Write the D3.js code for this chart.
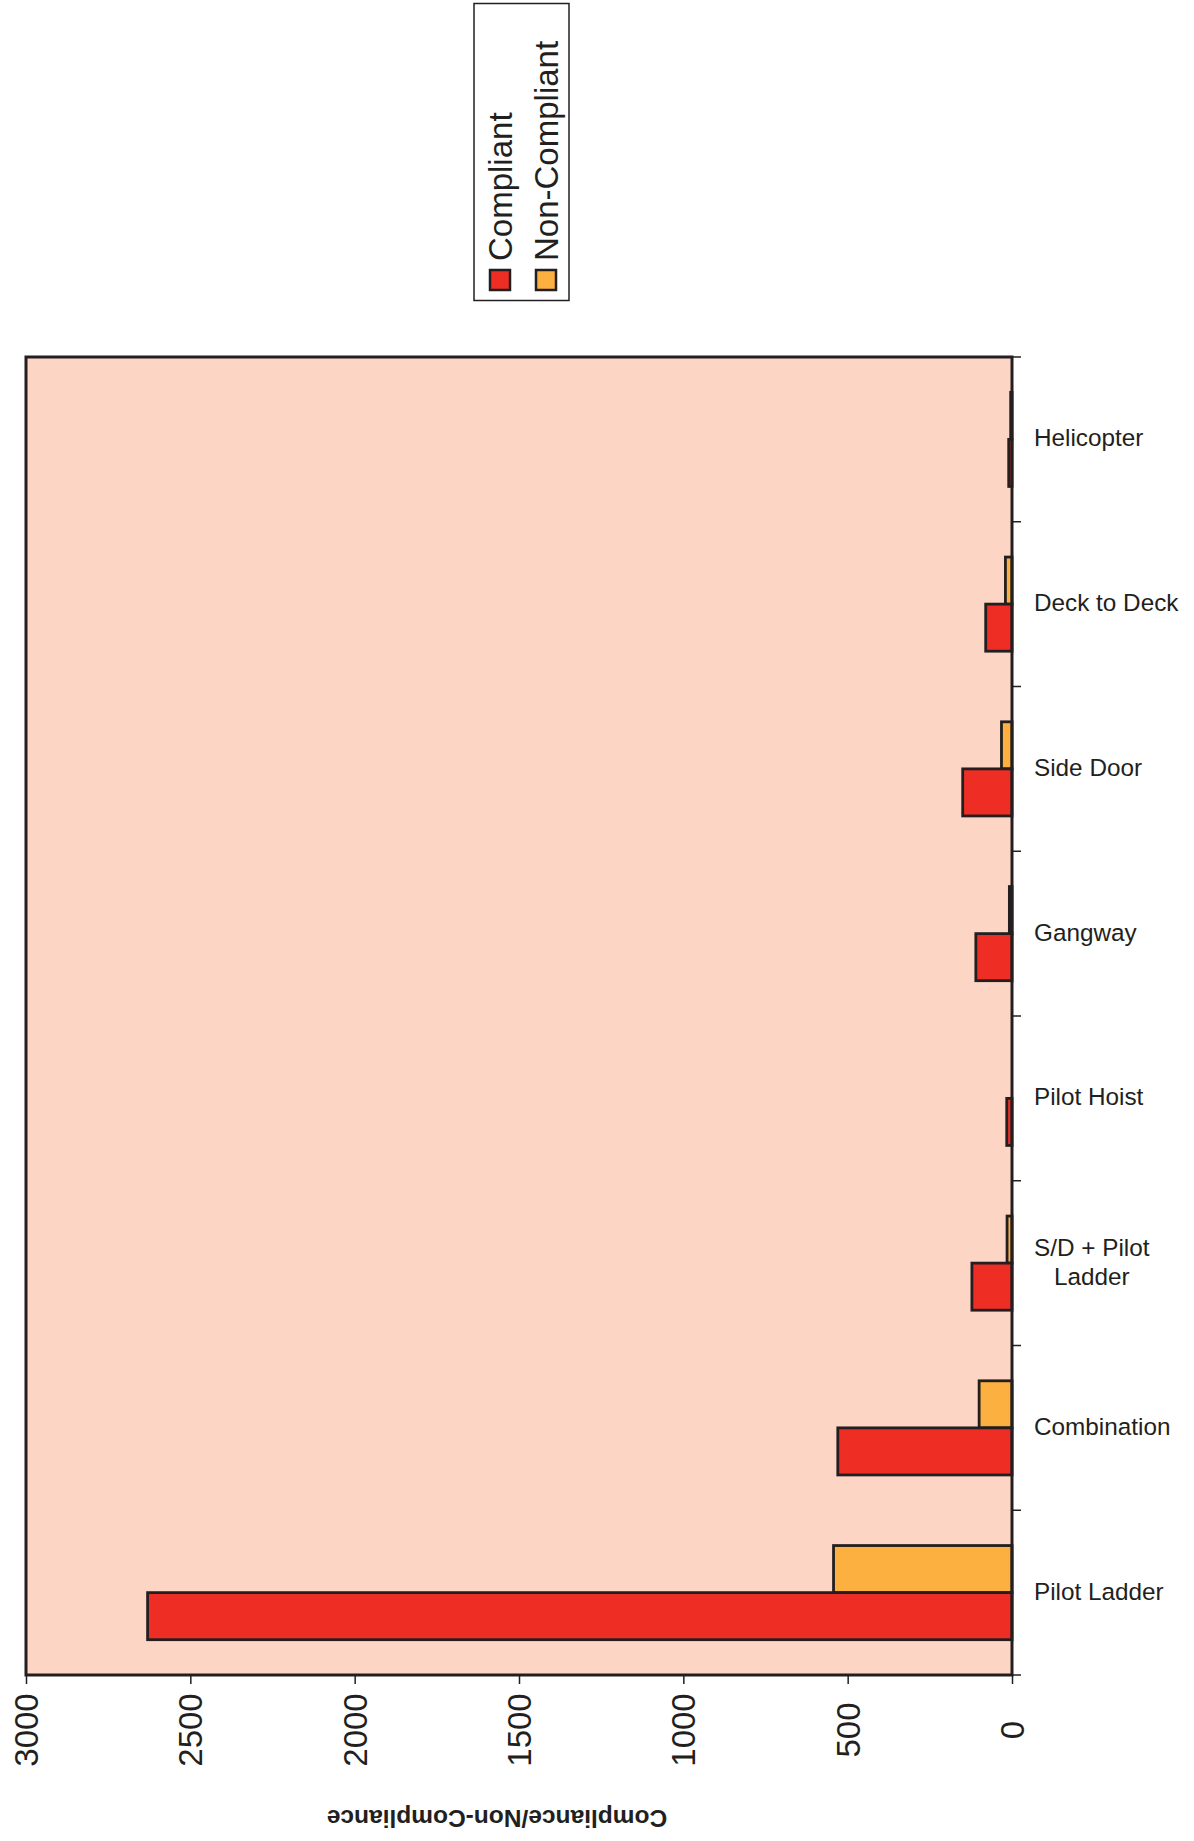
<!DOCTYPE html>
<html>
<head>
<meta charset="utf-8">
<script src="https://cdn.jsdelivr.net/npm/d3@7"></script>
<style>
  html, body { margin: 0; padding: 0; background: #fff; }
  svg { display: block; font-family: "Liberation Sans", Arial, Helvetica, sans-serif; }
</style>
</head>
<body>
<svg id="chart" width="1194" height="1841"></svg>
<script>
/************
** data
*************/
var categories = ["Pilot Ladder", "Combination", "S/D + Pilot Ladder", "Pilot Hoist",
                  "Gangway", "Side Door", "Deck to Deck", "Helicopter"];
var compliant = [2630, 530, 122, 16, 110, 150, 80, 10];
var nonCompliant = [543, 100, 15, 0, 8, 32, 20, 4];
var valueTicks = [0, 500, 1000, 1500, 2000, 2500, 3000];
var seriesNames = ["Compliant", "Non-Compliant"];

/************
** colors
*************/
var plotBg = "#fdd5c4";
var redFill = "#ee2e24";
var orangeFill = "#fbb040";
var ink = "#231f20";

var svg = d3.select("#chart");

// plot area (values grow to the left, categories run bottom to top)
var plot = { left: 26, right: 1012, top: 357, bottom: 1675 };

var x = d3.scaleLinear().domain([0, 3000]).range([plot.right, plot.left]);
var y = d3.scaleBand().domain(categories).range([plot.bottom, plot.top]);
var sub = d3.scaleBand().domain(["nonCompliant", "compliant"])
    .range([0, y.step()]).paddingOuter(0.75);

var rows = categories.map(function(c, i){
    return { cat: c, compliant: compliant[i], nonCompliant: nonCompliant[i] };
});

svg.append("rect")
    .attr("x", plot.left).attr("y", plot.top)
    .attr("width", plot.right - plot.left).attr("height", plot.bottom - plot.top)
    .attr("fill", plotBg);

/************
** bars
*************/
var groups = svg.selectAll("g.cat").data(rows).enter().append("g")
    .attr("class", "cat")
    .attr("transform", function(d){ return "translate(0," + y(d.cat) + ")"; });

[["nonCompliant", orangeFill], ["compliant", redFill]].forEach(function(s){
    groups.filter(function(d){ return d[s[0]] > 0; })
        .append("rect")
        .attr("x", function(d){ return x(d[s[0]]); })
        .attr("y", sub(s[0]))
        .attr("width", function(d){ return x(0) - x(d[s[0]]); })
        .attr("height", sub.bandwidth())
        .attr("fill", s[1])
        .attr("stroke", ink)
        .attr("stroke-width", 2.8);
});

// frame
svg.append("rect")
    .attr("x", plot.left).attr("y", plot.top)
    .attr("width", plot.right - plot.left).attr("height", plot.bottom - plot.top)
    .attr("fill", "none").attr("stroke", ink).attr("stroke-width", 3);

/************
** value axis (bottom)
*************/
var xAxis = svg.append("g")
    .attr("transform", "translate(0," + plot.bottom + ")")
    .call(d3.axisBottom(x).tickValues(valueTicks).tickSize(9).tickSizeOuter(0).tickFormat(d3.format("d")));
xAxis.select(".domain").remove();
xAxis.selectAll(".tick line").attr("stroke", ink).attr("stroke-width", 1.5);
xAxis.selectAll(".tick text")
    .attr("fill", ink)
    .attr("font-size", 33)
    .attr("text-anchor", "middle")
    .attr("y", 0).attr("dy", "0.35em")
    .attr("transform", "translate(0,55) rotate(-90)");

// upside-down axis title
svg.append("text")
    .attr("transform", "translate(497,1819) rotate(180)")
    .attr("text-anchor", "middle")
    .attr("dy", "0.35em")
    .attr("font-size", 24.5)
    .attr("font-weight", "bold")
    .attr("fill", ink)
    .text("Compliance/Non-Compliance");

/************
** category axis (right)
*************/
var boundaries = d3.range(categories.length + 1).map(function(i){ return plot.bottom - i * y.step(); });
svg.selectAll("line.cattick").data(boundaries).enter().append("line")
    .attr("class", "cattick")
    .attr("x1", plot.right).attr("x2", plot.right + 9)
    .attr("y1", function(d){ return d; }).attr("y2", function(d){ return d; })
    .attr("stroke", ink).attr("stroke-width", 1.5);

var labelX = 1034;
var lineH = 29;
rows.forEach(function(d){
    var t = svg.append("text")
        .attr("font-size", 24.3)
        .attr("fill", ink)
        .attr("text-anchor", "middle");
    // wrap words to ~150px
    var words = d.cat.split(" "), lines = [], cur = [];
    words.forEach(function(w){
        cur.push(w);
        var probe = t.append("tspan").text(cur.join(" "));
        var wd = probe.node().getComputedTextLength();
        probe.remove();
        if (wd > 150 && cur.length > 1) {
            cur.pop();
            lines.push(cur.join(" "));
            cur = [w];
        }
    });
    lines.push(cur.join(" "));
    var widths = lines.map(function(l){
        var p = t.append("tspan").text(l);
        var wd = p.node().getComputedTextLength();
        p.remove();
        return wd;
    });
    var cx = labelX + d3.max(widths) / 2;
    var cy = y(d.cat) + y.bandwidth() / 2 - 1.5;
    lines.forEach(function(l, i){
        t.append("tspan")
            .attr("x", cx)
            .attr("y", cy + (i - (lines.length - 1) / 2) * lineH)
            .attr("dy", "0.35em")
            .text(l);
    });
});

/************
** legend
*************/
var legend = svg.append("g");
legend.append("rect")
    .attr("x", 474).attr("y", 3.5).attr("width", 95).attr("height", 297)
    .attr("fill", "#fff").attr("stroke", ink).attr("stroke-width", 1.5);

var legendItems = [
    { name: seriesNames[0], fill: redFill, x: 500 },
    { name: seriesNames[1], fill: orangeFill, x: 546 }
];
legendItems.forEach(function(it){
    legend.append("rect")
        .attr("x", it.x - 10).attr("y", 270)
        .attr("width", 20).attr("height", 20)
        .attr("fill", it.fill).attr("stroke", ink).attr("stroke-width", 2.5);
    legend.append("text")
        .attr("transform", "translate(" + (it.x + 12) + ",261) rotate(-90)")
        .attr("font-size", 33)
        .attr("fill", ink)
        .text(it.name);
});
</script>
</body>
</html>
